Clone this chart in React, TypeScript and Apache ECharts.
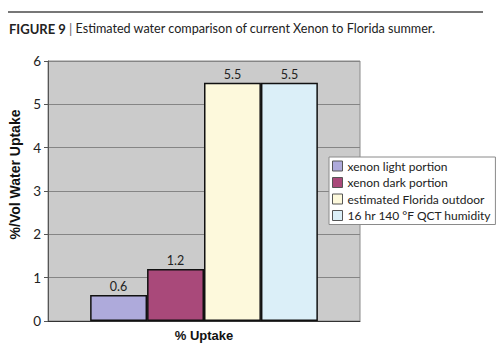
import React, { useEffect, useRef } from "react";
import * as echarts from "echarts";

const categories = ["% Uptake"];
const seriesNames = [
  "xenon light portion",
  "xenon dark portion",
  "estimated Florida outdoor",
  "16 hr 140 °F QCT humidity",
];
const seriesValues = [0.6, 1.2, 5.5, 5.5];
const seriesColors = ["#aeaadb", "#a9497a", "#fdf9dc", "#dbeff8"];
const yTicks = { min: 0, max: 6, interval: 1 };

export default function App() {
  const ref = useRef<HTMLDivElement>(null);
  useEffect(() => {
    document.body.style.margin = "0";
    if (!ref.current) return;
    const chart = echarts.init(ref.current, undefined, { renderer: "svg" });
    chart.setOption({
      animation: false,
      grid: {
        left: 48,
        right: 140,
        top: 61,
        bottom: 31,
        containLabel: false,
        show: true,
        backgroundColor: "#cbcbcb",
        borderColor: "#8a8a8a",
        borderWidth: 1,
      },
      legend: {
        orient: "vertical",
        left: 329,
        top: 157,
        backgroundColor: "#ffffff",
        borderColor: "#8a8a8a",
        borderWidth: 1,
        padding: [3, 4, 3, 3],
        itemWidth: 10,
        itemHeight: 10,
        itemGap: 4.5,
        icon: "rect",
        selectedMode: false,
        itemStyle: { borderColor: "#555", borderWidth: 1 },
        textStyle: {
          fontFamily: "Lato",
          fontSize: 12,
          color: "#222",
          lineHeight: 12,
        },
        data: seriesNames,
      },
      xAxis: {
        type: "category",
        data: categories,
        axisLine: { show: true, lineStyle: { color: "#333", width: 1 } },
        axisTick: { show: false },
        axisLabel: {
          fontFamily: "Liberation Sans",
          fontWeight: "bold",
          fontSize: 13,
          color: "#111",
          margin: 8,
        },
      },
      yAxis: {
        type: "value",
        min: yTicks.min,
        max: yTicks.max,
        interval: yTicks.interval,
        name: "%/Vol Water Uptake",
        nameLocation: "middle",
        nameRotate: 90,
        nameGap: 24,
        nameTextStyle: {
          fontFamily: "Liberation Sans",
          fontWeight: "bold",
          fontSize: 14,
          color: "#111",
          padding: [0, 0, 0, 33],
        },
        axisLine: { show: true, lineStyle: { color: "#555", width: 1 } },
        axisTick: { show: true, length: 4, lineStyle: { color: "#555" } },
        axisLabel: {
          fontFamily: "Lato",
          fontSize: 13.5,
          color: "#222",
          margin: 7,
        },
        splitLine: { show: true, lineStyle: { color: "#858585", width: 1 } },
      },
      series: seriesNames.map((name, i) => ({
        name,
        type: "bar",
        data: [seriesValues[i]],
        barGap: "0%",
        barCategoryGap: "27%",
        itemStyle: {
          color: seriesColors[i],
          borderColor: "#111",
          borderWidth: 1.5,
        },
        label: {
          show: true,
          position: "top",
          distance: 2,
          fontFamily: "Lato",
          fontSize: 12.5,
          color: "#222",
        },
      })),
      graphic: [
        {
          type: "text",
          left: 9,
          top: 22,
          style: {
            text: "{b|FIGURE 9} {s||} Estimated water comparison of current Xenon to Florida summer.",
            fontFamily: "Lato",
            fontSize: 12.6,
            fill: "#222",
            rich: {
              b: {
                fontFamily: "Lato",
                fontWeight: "bold",
                fontSize: 13,
                fill: "#222",
              },
              s: { fontFamily: "Lato", fontSize: 13, fill: "#666" },
            },
          },
        },
        {
          type: "rect",
          left: 8,
          top: 11,
          shape: { width: 475, height: 2 },
          style: { fill: "#777777" },
        },
      ],
    });
    return () => chart.dispose();
  }, []);
  return <div ref={ref} style={{ width: 500, height: 352, background: "#fff" }} />;
}
